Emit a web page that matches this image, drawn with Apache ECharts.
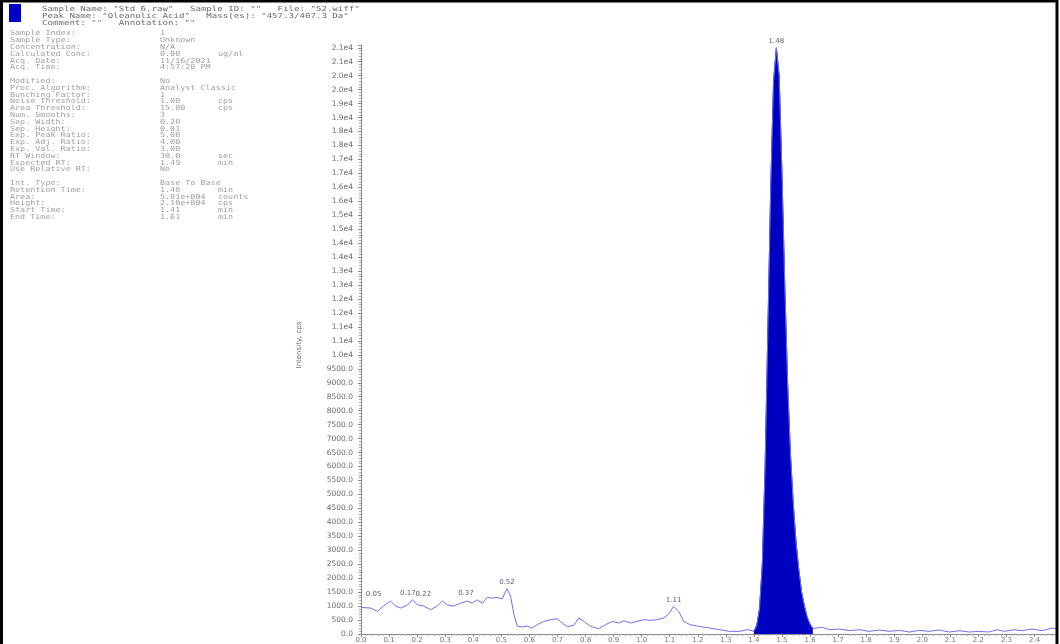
<!DOCTYPE html>
<html>
<head>
<meta charset="utf-8">
<script src="https://cdn.jsdelivr.net/npm/echarts@6/dist/echarts.min.js"></script>
<style>
html,body{margin:0;padding:0;background:#fff;}
#chart{width:1060px;height:644px;}
</style>
</head>
<body>
<div id="chart"></div>
<script>
// ---- data (retention time in min, intensity in cps) ----
const times = [
  0.000,0.035,0.058,0.080,0.105,0.124,0.141,0.165,0.183,0.201,0.224,0.248,0.272,0.290,0.307,0.330,
  0.355,0.379,0.396,0.414,0.432,0.450,0.468,0.485,0.503,0.520,0.533,0.545,0.557,0.574,0.592,0.610,
  0.628,0.651,0.675,0.699,0.717,0.735,0.758,0.776,0.794,0.818,0.847,0.871,0.895,0.918,0.936,0.960,
  0.984,1.007,1.031,1.055,1.078,1.096,1.114,1.132,1.150,1.173,1.203,1.242,1.278,1.313,1.349,1.377,
  1.400,1.410,1.420,1.430,1.440,1.450,1.460,1.470,1.480,1.490,1.500,1.510,1.520,1.530,1.540,1.550,
  1.560,1.570,1.580,1.590,1.600,1.610,1.644,1.669,1.705,1.740,1.776,1.811,1.847,1.883,1.918,1.954,
  1.989,2.025,2.060,2.096,2.132,2.167,2.203,2.238,2.267,2.292,2.327,2.356,2.391,2.427,2.463,2.480
];
const intensities = [
  950,930,810,1000,1180,1000,930,1035,1225,1046,1000,870,1000,1180,1046,1000,
  1107,1180,1107,1225,1107,1310,1285,1310,1260,1620,1357,690,285,250,285,214,
  333,452,512,547,393,262,310,571,452,274,190,333,452,393,476,393,
  452,512,488,512,571,714,990,810,452,333,274,214,155,95,95,155,
  100,300,900,2500,6000,11000,16000,19800,21000,20000,16500,12500,9000,6500,4700,3300,
  2300,1500,1000,600,350,200,238,155,178,119,155,95,143,95,131,71,
  131,95,143,71,119,71,95,71,155,95,155,119,178,119,214,190
];
// integrated peak (filled)
const peakStart = 1.40;
const peakEnd = 1.61;

// peak apex annotations
const peakTimes   = [0.045, 0.167, 0.222, 0.374, 0.520, 1.114, 1.480];
const peakHeights = [1180, 1225, 1180, 1225, 1620, 990, 21000];
const peakLabels  = ["0.05", "0.17", "0.22", "0.37", "0.52", "1.11", "1.48"];

// tick labels
const yTickLabels = ["0.0","500.0","1000.0","1500.0","2000.0","2500.0","3000.0","3500.0","4000.0","4500.0",
  "5000.0","5500.0","6000.0","6500.0","7000.0","7500.0","8000.0","8500.0","9000.0","9500.0",
  "1.0e4","1.1e4","1.1e4","1.2e4","1.2e4","1.3e4","1.3e4","1.4e4","1.4e4","1.5e4",
  "1.5e4","1.6e4","1.6e4","1.7e4","1.7e4","1.8e4","1.8e4","1.9e4","1.9e4","2.0e4",
  "2.0e4","2.1e4","2.1e4"];
const xTickLabels = ["0.0","0.1","0.2","0.3","0.4","0.5","0.6","0.7","0.8","0.9","1.0","1.1","1.2",
  "1.3","1.4","1.5","1.6","1.7","1.8","1.9","2.0","2.1","2.2","2.3","2.4"];

// header and info text
const headerLines = [
  'Sample Name: "Std 6.raw"   Sample ID: ""   File: "52.wiff"',
  'Peak Name: "Oleanolic Acid"   Mass(es): "457.3/407.3 Da"',
  'Comment: ""   Annotation: ""'
];
const infoLabels = ["Sample Index:","Sample Type:","Concentration:","Calculated Conc:","Acq. Date:","Acq. Time:",
  "",
  "Modified:","Proc. Algorithm:","Bunching Factor:","Noise Threshold:","Area Threshold:","Num. Smooths:",
  "Sep. Width:","Sep. Height:","Exp. Peak Ratio:","Exp. Adj. Ratio:","Exp. Val. Ratio:","RT Window:",
  "Expected RT:","Use Relative RT:",
  "",
  "Int. Type:","Retention Time:","Area:","Height:","Start Time:","End Time:"];
const infoValues = ["1","Unknown","N/A","0.00","11/16/2021","4:57:20 PM",
  "",
  "No","Analyst Classic","1","1.00","15.00","3",
  "0.20","0.01","5.00","4.00","3.00","30.0",
  "1.49","No",
  "",
  "Base To Base","1.48","5.81e+004","2.10e+004","1.41","1.61"];
const infoUnits = ["","","","ug/ml","","",
  "",
  "","","","cps","cps","",
  "","","","","","sec",
  "min","",
  "",
  "","min","counts","cps","min","min"];

// ---- build ----
const traceData = times.map((t, i) => [t, intensities[i]]);
const fillData = traceData.filter(p => p[0] >= peakStart - 1e-9 && p[0] <= peakEnd + 1e-9);

const graphics = [];
graphics.push({type:'rect', left: 9, top: 4, shape:{width:12, height:18}, style:{fill:'#0000c8'}, z:10});
headerLines.forEach((s, i) => {
  graphics.push({type:'text', x: 42, y: 6 + i * 7, scaleX: 1.3, z:10,
    style:{text:s, font:'7px "DejaVu Sans Mono"', fill:'#6a6a6a', textVerticalAlign:'top'}});
});
infoLabels.forEach((s, i) => {
  const y = 30 + i * 6.8;
  if (s) graphics.push({type:'text', x: 10, y: y, scaleX: 1.2, z:10,
    style:{text:s, font:'7px "DejaVu Sans Mono"', fill:'#a0a0a0', textVerticalAlign:'top'}});
  if (infoValues[i]) graphics.push({type:'text', x: 160, y: y, scaleX: 1.2, z:10,
    style:{text:infoValues[i], font:'7px "DejaVu Sans Mono"', fill:'#a0a0a0', textVerticalAlign:'top'}});
  if (infoUnits[i]) graphics.push({type:'text', x: 218, y: y, scaleX: 1.2, z:10,
    style:{text:infoUnits[i], font:'7px "DejaVu Sans Mono"', fill:'#a0a0a0', textVerticalAlign:'top'}});
});
graphics.push({type:'text', x: 299, y: 345, rotation: Math.PI/2, z:10,
  style:{text:'Intensity, cps', font:'7px "DejaVu Sans"', fill:'#666', textAlign:'center', textVerticalAlign:'middle'}});
// outer frame
graphics.push({type:'rect', shape:{x:1.5, y:1, width:1055.5, height:700}, style:{fill:'none', stroke:'#000', lineWidth:3}, z:20});

const chart = echarts.init(document.getElementById('chart'), null, {renderer:'canvas'});
chart.setOption({
  animation: false,
  backgroundColor: '#fff',
  grid: {left: 361, right: 3, top: 45, bottom: 8, containLabel: false},
  xAxis: {
    type: 'value', min: 0, max: 2.48, interval: 0.1,
    axisLine: {show: true, lineStyle: {color: '#8a8a8a', width: 1}},
    axisTick: {show: true, length: 3, lineStyle: {color: '#8a8a8a'}},
    minorTick: {show: true, splitNumber: 5, length: 2, lineStyle: {color: '#aaa'}},
    splitLine: {show: false},
    axisLabel: {show: true, margin: 3, fontSize: 7, color: '#777', fontFamily: 'DejaVu Sans',
      formatter: v => { const k = Math.round(v * 10); return Math.abs(v * 10 - k) < 1e-6 ? (xTickLabels[k] || '') : ''; }}
  },
  yAxis: {
    type: 'value', min: 0, max: 21100, interval: 500,
    axisLine: {show: true, lineStyle: {color: '#8a8a8a', width: 1}},
    axisTick: {show: true, length: 3, lineStyle: {color: '#8a8a8a'}},
    minorTick: {show: true, splitNumber: 5, length: 2, lineStyle: {color: '#aaa'}},
    splitLine: {show: false},
    axisLabel: {show: true, margin: 8, fontSize: 7.5, color: '#6a6a6a', fontFamily: 'DejaVu Sans', showMaxLabel: false,
      formatter: v => (v % 500 === 0 ? (yTickLabels[v / 500] || '') : '')}
  },
  graphic: graphics,
  series: [
    {
      type: 'line', data: fillData, symbol: 'none', smooth: false,
      lineStyle: {color: '#0000c0', width: 1},
      areaStyle: {color: '#0000c0', opacity: 1},
      z: 2
    },
    {
      type: 'line', data: traceData, symbol: 'none', smooth: false,
      lineStyle: {color: '#6e6ef0', width: 1},
      z: 3,
      markPoint: {
        symbol: 'circle', symbolSize: 0,
        label: {show: true, position: 'top', distance: 3, fontSize: 7, color: '#5a5a7a', fontFamily: 'DejaVu Sans', formatter: '{b}'},
        data: peakTimes.map((t, i) => ({name: peakLabels[i], coord: [t, peakHeights[i]], value: peakHeights[i]}))
      }
    }
  ]
});
</script>
</body>
</html>
